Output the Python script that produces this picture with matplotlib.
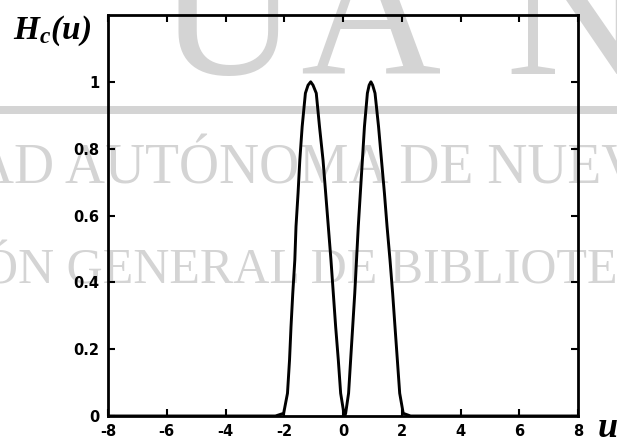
import matplotlib
matplotlib.use('Agg')
import matplotlib.pyplot as plt
from matplotlib.patches import Rectangle

plt.rcParams['axes.unicode_minus'] = False
plt.rcParams['mathtext.fontset'] = 'custom'
plt.rcParams['mathtext.it'] = 'Liberation Serif:italic:bold'
plt.rcParams['mathtext.rm'] = 'Liberation Serif:italic:bold'

# curve
u = [-8, -2.3, -2.02, -1.89, -1.82, -1.77, -1.71, -1.64, -1.6, -1.53, -1.47,
     -1.39, -1.28, -1.19, -1.1, -1.02, -0.91, -0.8, -0.68, -0.59, -0.5, -0.41,
     -0.33, -0.25, -0.16, -0.08, 0.03, 0.06, 0.09, 0.19, 0.26, 0.33, 0.4,
     0.46, 0.52, 0.59, 0.66, 0.73, 0.83, 0.89, 0.95, 1.01, 1.09, 1.21, 1.31,
     1.41, 1.5, 1.6, 1.69, 1.77, 1.85, 1.93, 2.05, 2.3, 8]
H = [0, 0, 0.008, 0.068, 0.168, 0.267, 0.367, 0.467, 0.567, 0.667, 0.766,
     0.866, 0.966, 0.99, 1.0, 0.99, 0.966, 0.866, 0.766, 0.667, 0.567, 0.467,
     0.367, 0.267, 0.168, 0.068, 0.008, 0.0, 0.008, 0.068, 0.168, 0.267, 0.367,
     0.467, 0.567, 0.667, 0.766, 0.866, 0.966, 0.99, 1.0, 0.99, 0.966, 0.866,
     0.766, 0.667, 0.567, 0.467, 0.367, 0.267, 0.168, 0.068, 0.008, 0, 0]

xticks = [-8, -6, -4, -2, 0, 2, 4, 6, 8]
yticks = [0, 0.2, 0.4, 0.6, 0.8, 1]
ytick_labels = ['0', '0.2', '0.4', '0.6', '0.8', '1']

W, Hpx = 617, 446
fig = plt.figure(figsize=(W / 100, Hpx / 100), dpi=100)

# watermark
wm = '#d4d4d4'
fig.add_artist(Rectangle((0, 1 - 114 / Hpx), 1, 8 / Hpx, transform=fig.transFigure,
                         color=wm, zorder=-2, lw=0))
big = dict(family='Liberation Serif', fontsize=140, color=wm, zorder=-2, va='baseline')
fig.text(158 / W, 1 - 74 / Hpx, 'U', **big)
fig.text(300 / W, 1 - 74 / Hpx, 'A', **big)
fig.text(505 / W, 1 - 74 / Hpx, 'N', **big)
fig.text(-26 / W, 1 - 183 / Hpx, 'AD AUTÓNOMA DE NUEV', family='Liberation Serif',
         fontsize=40, color=wm, zorder=-2, va='baseline')
fig.text(-18 / W, 1 - 283 / Hpx, 'ÓN GENERAL DE BIBLIOTE', family='Liberation Serif',
         fontsize=36, color=wm, zorder=-2, va='baseline')

ax = fig.add_axes([108 / W, 30 / Hpx, 470 / W, 401 / Hpx])
ax.set_facecolor('none')
ax.plot(u, H, color='black', lw=2.1)
ax.set_xlim(-8, 8)
ax.set_ylim(0, 1.2)
ax.set_xticks(xticks)
ax.set_xticklabels([str(t) for t in xticks])
ax.set_yticks(yticks)
ax.set_yticklabels(ytick_labels)
ax.tick_params(direction='in', length=5, width=1.5, top=True, right=True, pad=6)
for lab in ax.get_xticklabels() + ax.get_yticklabels():
    lab.set_family(['Liberation Sans Narrow', 'DejaVu Sans'])
    lab.set_fontweight('bold')
    lab.set_fontsize(10.5)
for s in ax.spines.values():
    s.set_linewidth(2)

fig.text(13 / W, 1 - 39 / Hpx, r'$H_c(u)$', fontsize=24, va='baseline')
fig.text(597 / W, 1 - 437 / Hpx, r'$u$', fontsize=26, va='baseline')

fig.savefig('out.png', dpi=100)
